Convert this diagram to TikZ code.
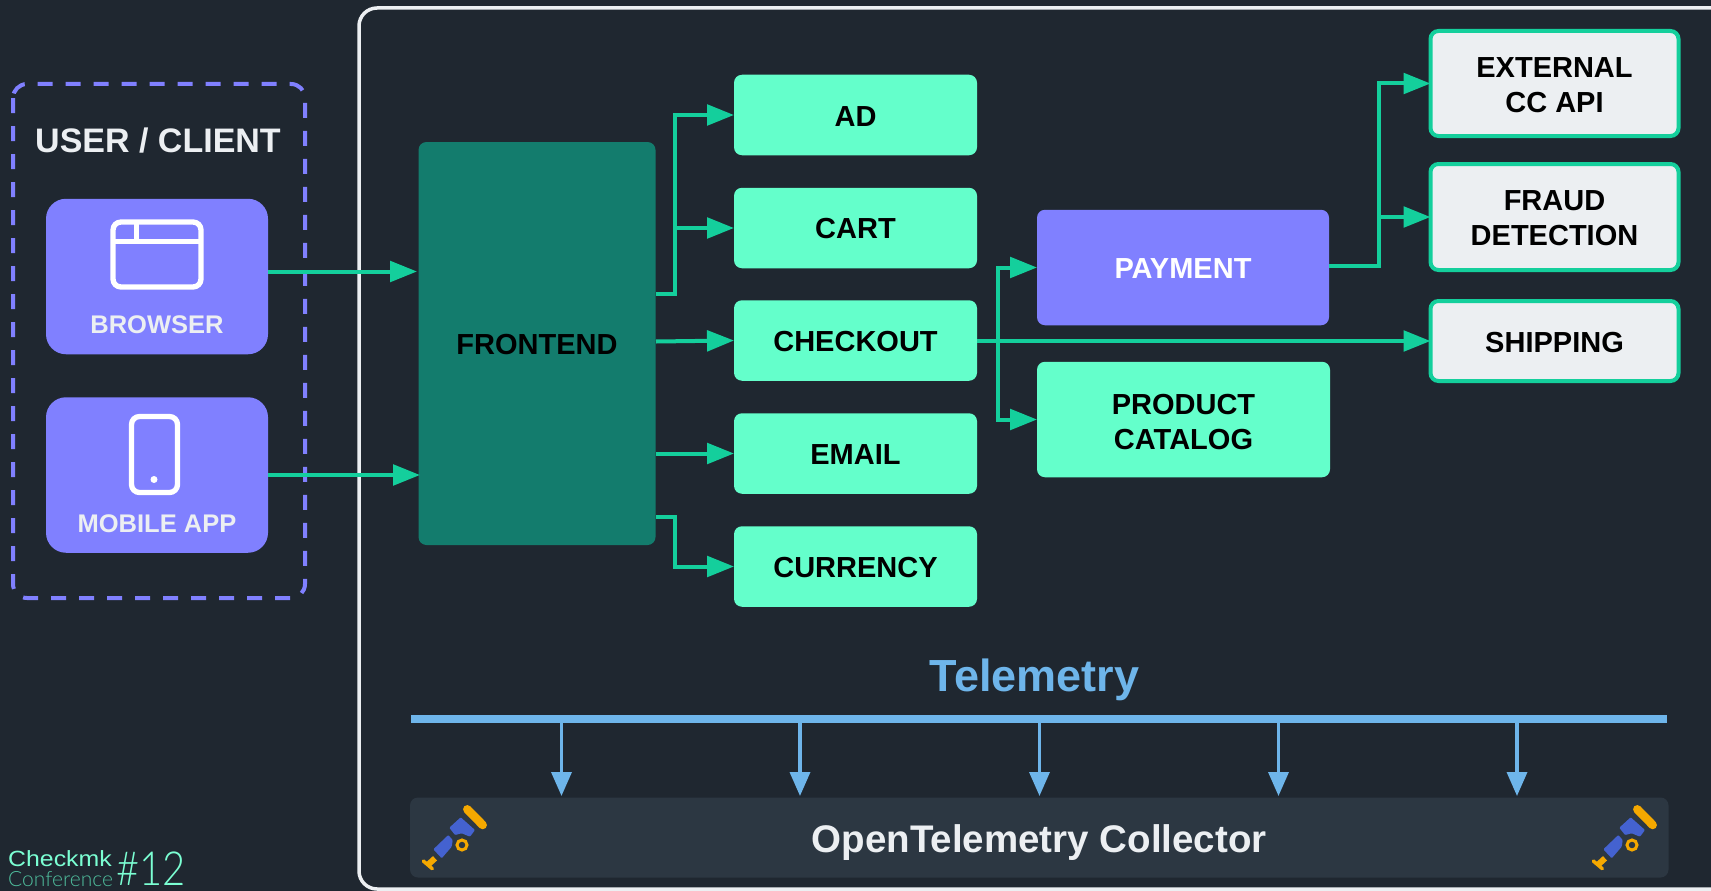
\documentclass[tikz,border=0pt]{standalone}
\usepackage{fontspec}
\usetikzlibrary{arrows.meta,calc}
\setmainfont{Liberation Sans}
\newfontfamily\lightfont{Lato Light}
\newcommand{\tstrut}[2][0]{\rule[-#1pt]{0pt}{#2pt}}
\definecolor{bgc}{HTML}{1F2730}
\definecolor{purp}{HTML}{8080FF}
\definecolor{mint}{HTML}{64FFCB}
\definecolor{flowc}{HTML}{14CF9C}
\definecolor{frontc}{HTML}{137C6D}
\definecolor{lightc}{HTML}{ECEFF2}
\definecolor{teleb}{HTML}{6EB5EA}
\definecolor{collc}{HTML}{2C3742}
\definecolor{tely}{HTML}{F5A800}
\definecolor{telb}{HTML}{4462D0}
\definecolor{framec}{HTML}{ECEFF2}
\tikzset{
  boxbase/.style={rectangle,rounded corners=8pt,inner sep=0pt,outer sep=0pt,align=center,
    font=\fontsize{29}{35}\selectfont\bfseries,text=black},
  svc/.style={boxbase,fill=mint,minimum width=243pt,minimum height=80.5pt},
  ext/.style={boxbase,fill=lightc,draw=flowc,line width=4pt,minimum width=248pt},
  client/.style={rectangle,rounded corners=20pt,fill=purp,inner sep=0pt,outer sep=0pt,minimum width=222pt,minimum height=155.5pt},
  clientlabel/.style={inner sep=0pt,text=lightc,font=\fontsize{25.5}{32}\selectfont\bfseries},
  flow/.style={draw=flowc,line width=4pt,-{Triangle[length=27pt,width=20.5pt]}},
  tele/.style={draw=teleb,line width=3.5pt,-{Triangle[length=24pt,width=20pt]}},
  iconline/.style={draw=white,line width=5.3pt,rounded corners=8pt},
  telescope/.pic={
    \draw[tely,line width=8.5pt,line cap=round] (-7.7,-7.7) -- (7.7,8);
    \fill[telb,rounded corners=1pt] (-25.7,10.7) -- (-14.3,0.3) -- (0,13) -- (-5,19.7) -- (-13.3,16.3) -- (-20,18) -- cycle;
    \fill[telb,rounded corners=1pt] (-41.7,32.3) -- (-26.7,18) -- (-22.3,23) -- (-23.3,29.7) -- (-33.3,41.3) -- cycle;
    \draw[tely,line width=3pt] (-13,28) circle[radius=5pt];
    \draw[tely,line width=3.5pt,line cap=round] (-51.7,44) -- (-42.7,51.7);
    \draw[tely,line width=6pt] (-47,47.7) -- (-40,41.3);
  }
}
\begin{document}
\begin{tikzpicture}[x=1pt,y=-1pt]
\useasboundingbox (0,0) rectangle (1711,891);
\fill[bgc] (0,0) rectangle (1711,891);
\begin{scope}
\clip (0,0) rectangle (1711,891);
\draw[framec,line width=3.5pt,rounded corners=18pt] (1722,8) -- (359,8) -- (359,889) -- (1722,889);
\end{scope}
% client group
\draw[purp,line width=4pt,dash pattern=on 15pt off 13pt,rounded corners=14pt] (13,84) rectangle (305,598);
\node[inner sep=0pt,text=lightc,font=\fontsize{34}{40}\selectfont\bfseries] (usr) at (158,141) {USER / CLIENT};
\node[client] (browser) at (157,276.5) {};
\node[client] (mobile) at (157,475) {};
\node[clientlabel] (brl) at (157,325) {BROWSER};
\node[clientlabel] (mbl) at (157,524) {MOBILE APP};
% icons
\draw[iconline] (113,222) rectangle (201,287);
\draw[white,line width=5pt] (113,241) -- (201,241) (136,222) -- (136,241);
\draw[iconline] (131.5,416.5) rectangle (177.5,492.5);
\fill[white] (154,479.5) circle[radius=3.5pt];
% frontend and services
\node[boxbase,fill=frontc,minimum width=237pt,minimum height=403pt] (front) at (537,343.5) {\tstrut{23}FRONTEND};
\node[svc] (ad) at (855.5,115) {\tstrut{23}AD};
\node[svc] (cart) at (855.5,228) {\tstrut{21.5}CART};
\node[svc] (checkout) at (855.5,340.5) {\tstrut{23}CHECKOUT};
\node[svc] (email) at (855.5,453.5) {\tstrut{21.5}EMAIL};
\node[svc] (currency) at (855.5,566.5) {\tstrut{23}CURRENCY};
\node[boxbase,fill=purp,text=white,minimum width=292pt,minimum height=115.5pt] (payment) at (1183,267.5) {\tstrut{22}PAYMENT};
\node[boxbase,fill=mint,minimum width=293pt,minimum height=115.5pt] (catalog) at (1183.5,419.5) {\tstrut{25}PRODUCT\\CATALOG};
\node[ext,minimum height=105pt] (extcc) at (1554.5,83.5) {\tstrut{24}EXTERNAL\\CC API};
\node[ext,minimum height=106pt] (fraud) at (1554.5,217) {\tstrut{23}FRAUD\\DETECTION};
\node[ext,minimum height=80pt] (shipping) at (1554.5,341) {\tstrut{23}SHIPPING};
% client to frontend
\coordinate (brout) at (268,271.5);
\coordinate (brin) at (417,271.5);
\coordinate (mbout) at (268,475);
\coordinate (mbin) at (420,475);
\draw[flow] (brout) -- (brin);
\draw[flow] (mbout) -- (mbin);
% frontend to services
\coordinate (frup) at (656,293.5);
\coordinate (fkup) at (674.5,293.5);
\coordinate (frck) at (656,341.5);
\coordinate (frem) at (656,453.5);
\coordinate (frcu) at (656,517);
\coordinate (fkcu) at (674.5,517);
\draw[flow] (frup) -- (fkup) |- (ad.west);
\draw[flow] (fkup) |- (cart.west);
\draw[flow] (frck) -- (checkout.west);
\draw[flow] (frem) -- (email.west);
\draw[flow] (frcu) -- (fkcu) |- (currency.west);
% checkout
\coordinate (ckout) at (977,341);
\coordinate (ckfork) at (997.5,341);
\draw[flow] (ckout) -- (shipping.west);
\draw[flow] (ckfork) |- (payment.west);
\draw[flow] (ckfork) |- (catalog.west);
% payment
\coordinate (payout) at (1329,266);
\coordinate (payfork) at (1379,266);
\draw[flow] (payout) -- (payfork) |- (extcc.west);
\draw[flow] (payfork) |- (fraud.west);
% telemetry
\node[inner sep=0pt,text=teleb,font=\fontsize{45}{50}\selectfont\bfseries] (telt) at (1034.5,680) {Telemetry};
\node[rectangle,fill=teleb,inner sep=0pt,outer sep=0pt,minimum width=1256pt,minimum height=8pt] (bus) at (1039,719) {};
\node[rectangle,rounded corners=8pt,inner sep=0pt,outer sep=0pt,fill=collc,minimum width=1258.5pt,minimum height=80pt] (coll) at (1039.25,837.5) {};
\node[inner sep=0pt,text=lightc,font=\fontsize{38.5}{44}\selectfont\bfseries] (colltext) at (1039.25,842.5) {OpenTelemetry Collector};
\foreach \nm/\xx in {a/561.5,b/800,c/1039.5,d/1278.5,e/1517}{
  \coordinate (t\nm) at (\xx,719);
  \coordinate (u\nm) at (\xx,796);
  \draw[tele] (t\nm) -- (u\nm);
}
\pic at (475,817) {telescope};
\pic at (1645,817) {telescope};
% logo
\node[anchor=base west,inner sep=0pt,xscale=1.13,transform shape,text=mint!85!white,font=\fontsize{22}{26}\selectfont] (lg1) at (8,866.5) {Checkmk};
\node[anchor=base west,inner sep=0pt,text=mint!70!bgc,font=\lightfont\fontsize{21}{24}\selectfont] (lg2) at (8,886) {Conference};
\node[anchor=base west,inner sep=0pt,xscale=0.85,transform shape,text=mint!85!white,font=\lightfont\fontsize{47}{50}\selectfont] (lg3) at (116,885) {\#12};
\end{tikzpicture}
\end{document}
